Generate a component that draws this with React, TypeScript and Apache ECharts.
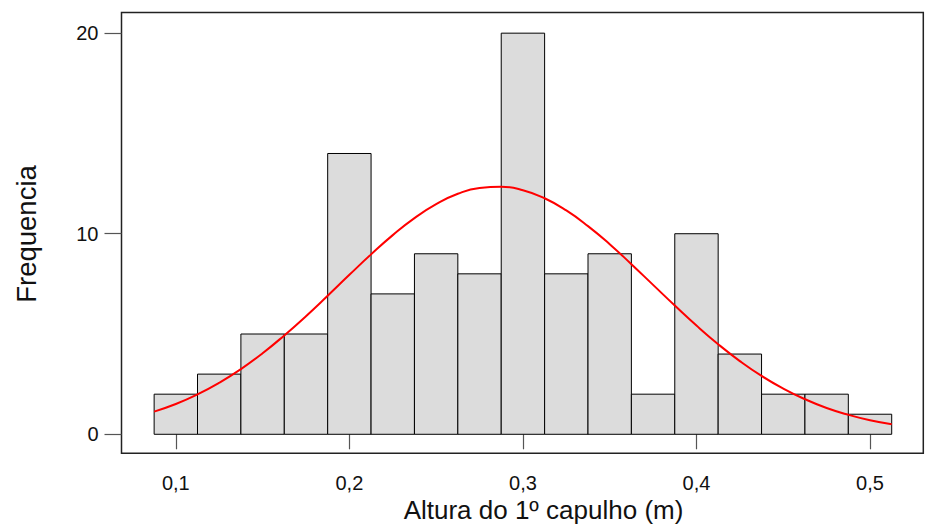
import React, { useEffect, useRef } from "react";
import * as echarts from "echarts";

// Histogram bins (centres), width and counts
const binCenters = [0.1, 0.125, 0.15, 0.175, 0.2, 0.225, 0.25, 0.275, 0.3, 0.325, 0.35, 0.375, 0.4, 0.425, 0.45, 0.475, 0.5];
const counts = [2, 3, 5, 5, 14, 7, 9, 8, 20, 8, 9, 2, 10, 4, 2, 2, 1];
const binWidth = 0.025;

// Fitted normal curve
const curveX = [0.0875, 0.1, 0.1125, 0.125, 0.1375, 0.15, 0.1625, 0.175, 0.1875, 0.2, 0.2125, 0.225, 0.2375, 0.25, 0.2625, 0.275, 0.2875, 0.3, 0.3125, 0.325, 0.3375, 0.35, 0.3625, 0.375, 0.3875, 0.4, 0.4125, 0.425, 0.4375, 0.45, 0.4625, 0.475, 0.4875, 0.5, 0.5125];
const curveY = [1.13, 1.51, 1.99, 2.57, 3.25, 4.04, 4.93, 5.89, 6.91, 7.95, 8.97, 9.93, 10.78, 11.47, 11.99, 12.28, 12.34, 12.17, 11.77, 11.16, 10.38, 9.48, 8.48, 7.45, 6.42, 5.42, 4.49, 3.65, 2.91, 2.28, 1.75, 1.31, 0.97, 0.7, 0.5];

// Tick values
const xTicks = [0.1, 0.2, 0.3, 0.4, 0.5];
const yTicks = [0, 10, 20];

const xTitle = "Altura do 1º capulho (m)";
const yTitle = "Frequencia";

const FONT = "'Liberation Sans', Arial, sans-serif";

export default function App() {
  const ref = useRef<HTMLDivElement>(null);
  useEffect(() => {
    if (!ref.current) return;
    const chart = echarts.init(ref.current, null, { renderer: "svg" });
    const barData = binCenters.map((c, i) => [c, counts[i]]);
    const lineData = curveX.map((x, i) => [x, curveY[i]]);
    chart.setOption({
      animation: false,
      backgroundColor: "#ffffff",
      grid: {
        left: 121.5,
        right: 3.7,
        top: 12.5,
        bottom: 73.7,
        show: true,
        borderColor: "#222222",
        borderWidth: 1.5,
        backgroundColor: "transparent",
      },
      xAxis: {
        type: "value",
        min: 0.0687,
        max: 0.5307,
        axisLine: { show: false },
        splitLine: { show: false },
        axisTick: {
          show: true,
          length: 15,
          inside: false,
          customValues: xTicks,
          lineStyle: { color: "#555555", width: 1.2 },
        },
        axisLabel: {
          customValues: xTicks,
          margin: 20,
          fontSize: 20,
          color: "#111111",
          fontFamily: FONT,
          formatter: (v: number) => String(Math.round(v * 10) / 10).replace(".", ","),
        },
      },
      yAxis: {
        type: "value",
        min: -0.948,
        max: 21.03,
        axisLine: { show: false },
        splitLine: { show: false },
        axisTick: {
          show: true,
          length: 17,
          inside: false,
          customValues: yTicks,
          lineStyle: { color: "#555555", width: 1.2 },
        },
        axisLabel: {
          customValues: yTicks,
          margin: 23,
          fontSize: 20,
          color: "#111111",
          fontFamily: FONT,
        },
      },
      graphic: [
        {
          type: "text",
          x: 543.5,
          y: 510,
          style: {
            text: xTitle,
            fontSize: 26,
            fontFamily: FONT,
            fill: "#111111",
            textAlign: "center",
            textVerticalAlign: "middle",
          },
        },
        {
          type: "text",
          x: 26,
          y: 234,
          rotation: Math.PI / 2,
          style: {
            text: yTitle,
            fontSize: 27.5,
            fontFamily: FONT,
            fill: "#111111",
            textAlign: "center",
            textVerticalAlign: "middle",
          },
        },
      ],
      series: [
        {
          type: "custom",
          data: barData,
          encode: { x: 0, y: 1 },
          z: 2,
          renderItem: (params: any, api: any) => {
            const c = api.value(0);
            const v = api.value(1);
            const p0 = api.coord([c - binWidth / 2, v]);
            const p1 = api.coord([c + binWidth / 2, 0]);
            return {
              type: "rect",
              shape: { x: p0[0], y: p0[1], width: p1[0] - p0[0], height: p1[1] - p0[1] },
              style: { fill: "#dcdcdc", stroke: "#000000", lineWidth: 1 },
            };
          },
        },
        {
          type: "line",
          data: lineData,
          smooth: true,
          showSymbol: false,
          z: 3,
          lineStyle: { color: "#ff0000", width: 2 },
          itemStyle: { color: "#ff0000" },
        },
      ],
    });
    return () => chart.dispose();
  }, []);
  return (
    <div
      ref={ref}
      style={{ position: "fixed", left: 0, top: 0, width: 927, height: 527, background: "#fff" }}
    />
  );
}
